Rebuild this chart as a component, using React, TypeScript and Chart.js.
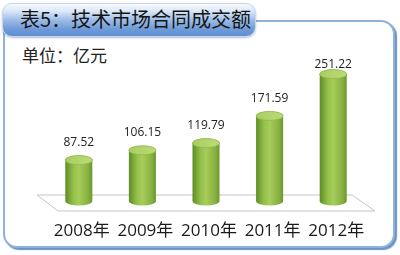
import React, { useEffect, useRef } from "react";
import { Chart, registerables } from "chart.js";

Chart.register(...registerables);

const years = ["2008年", "2009年", "2010年", "2011年", "2012年"];
const amounts = [87.52, 106.15, 119.79, 171.59, 251.22];
const valueLabels = ["87.52", "106.15", "119.79", "171.59", "251.22"];
const titleText = "表5：技术市场合同成交额";
const unitText = "单位：亿元";

const cylinderPlugin = {
  id: "cylinders",
  beforeDatasetsDraw(chart: any) {
    const { ctx, chartArea } = chart;
    const base = chart.scales.y.getPixelForValue(0);
    ctx.save();
    ctx.beginPath();
    ctx.moveTo(chartArea.left - 10, base - 11);
    ctx.lineTo(chartArea.right - 13, base - 11);
    ctx.lineTo(chartArea.right + 10, base + 5);
    ctx.lineTo(chartArea.left + 11, base + 5);
    ctx.closePath();
    ctx.fillStyle = "#ffffff";
    ctx.fill();
    ctx.strokeStyle = "#c4c4c4";
    ctx.lineWidth = 1;
    ctx.stroke();
    ctx.restore();
  },
  afterDatasetsDraw(chart: any) {
    const { ctx } = chart;
    const meta = chart.getDatasetMeta(0);
    meta.data.forEach((el: any, i: number) => {
      const x = el.x;
      const top = el.y;
      const rx = el.width / 2;
      const ry = 4.5;
      const bottomC = el.base - 5;
      ctx.save();
      const g = ctx.createLinearGradient(x - rx, 0, x + rx, 0);
      g.addColorStop(0, "#5f8c24");
      g.addColorStop(0.3, "#94c14a");
      g.addColorStop(0.5, "#a7cd5a");
      g.addColorStop(0.85, "#86b040");
      g.addColorStop(1, "#6a962c");
      ctx.beginPath();
      ctx.moveTo(x - rx, top);
      ctx.lineTo(x - rx, bottomC);
      ctx.ellipse(x, bottomC, rx, ry, 0, Math.PI, 0, true);
      ctx.lineTo(x + rx, top);
      ctx.ellipse(x, top, rx, ry, 0, 0, Math.PI, true);
      ctx.closePath();
      ctx.fillStyle = g;
      ctx.fill();
      ctx.beginPath();
      ctx.ellipse(x, top, rx, ry, 0, 0, Math.PI * 2);
      const tg = ctx.createLinearGradient(x - rx, 0, x + rx, 0);
      tg.addColorStop(0, "#a9cd62");
      tg.addColorStop(1, "#bcdb78");
      ctx.fillStyle = tg;
      ctx.fill();
      ctx.strokeStyle = "#90b94a";
      ctx.lineWidth = 0.8;
      ctx.stroke();

      ctx.fillStyle = "#222222";
      ctx.font = "12px 'Open Sans', 'Liberation Sans', sans-serif";
      ctx.textAlign = "center";
      ctx.textBaseline = "middle";
      const ly = Math.max(65, top - ry - 13);
      ctx.fillText(valueLabels[i], x, ly);

      ctx.font = "17px 'Open Sans', 'Noto Sans CJK SC', sans-serif";
      ctx.fillStyle = "#1a1a1a";
      ctx.fillText(years[i], x + 3, el.base + 25);
      ctx.restore();
    });
  },
};

export default function App() {
  const ref = useRef<HTMLCanvasElement | null>(null);
  useEffect(() => {
    if (!ref.current) return;
    const chart = new Chart(ref.current, {
      type: "bar",
      data: {
        labels: years,
        datasets: [
          {
            data: amounts,
            backgroundColor: "rgba(0,0,0,0)",
            borderWidth: 0,
            barPercentage: 0.425,
            categoryPercentage: 1,
          },
        ],
      },
      options: {
        responsive: false,
        animation: false,
        layout: { padding: { left: 47, right: 35, top: 48.5, bottom: 49 } },
        plugins: { legend: { display: false }, tooltip: { enabled: false } },
        scales: {
          x: { display: false },
          y: { display: false, min: 0, max: 300 },
        },
      },
      plugins: [cylinderPlugin],
    });
    return () => chart.destroy();
  }, []);

  return (
    <div
      style={{
        position: "absolute",
        left: 0,
        top: 0,
        width: 400,
        height: 255,
        background: "#ffffff",
        overflow: "hidden",
      }}
    >
      <div
        style={{
          position: "absolute",
          left: 3,
          top: 20,
          width: 388,
          height: 224,
          border: "2px solid #8fb2d9",
          borderRadius: 14,
          boxShadow: "2px 2px 1px #6b93c4",
          background: "#ffffff",
        }}
      />
      <div
        style={{
          position: "absolute",
          left: 2,
          top: 3,
          width: 252,
          height: 32,
          borderRadius: 10,
          border: "1px solid #c6d7ee",
          background:
            "linear-gradient(to bottom, #f7fafe 0%, #dce8f7 22%, #9dbce6 50%, #6f9bd8 78%, #5f8ed2 100%)",
          boxShadow: "0 1px 2px rgba(60,90,140,0.4)",
        }}
      />
      <div
        style={{
          position: "absolute",
          left: 20,
          top: 4,
          height: 30,
          lineHeight: "30px",
          fontSize: 20,
          fontFamily: "'Noto Sans CJK SC', sans-serif",
          color: "#151515",
          whiteSpace: "nowrap",
        }}
      >
        {titleText}
      </div>
      <div
        style={{
          position: "absolute",
          left: 22,
          top: 43,
          height: 24,
          lineHeight: "24px",
          fontSize: 17,
          fontFamily: "'Noto Sans CJK SC', sans-serif",
          color: "#222222",
          whiteSpace: "nowrap",
        }}
      >
        {unitText}
      </div>
      <canvas
        ref={ref}
        width={400}
        height={255}
        style={{ position: "absolute", left: 0, top: 0, width: 400, height: 255 }}
      />
    </div>
  );
}
